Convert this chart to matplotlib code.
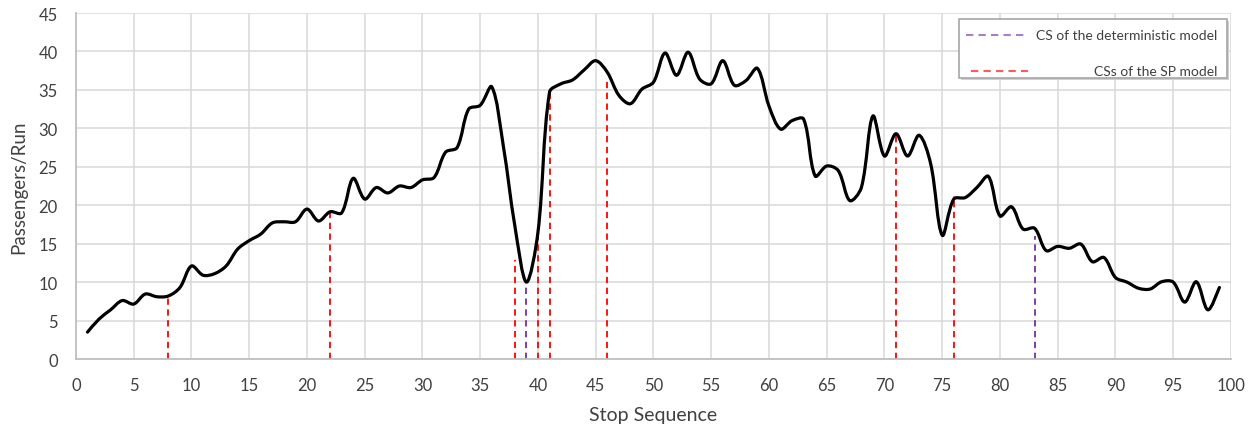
import numpy as np
import matplotlib
matplotlib.use("Agg")
import matplotlib.pyplot as plt
from matplotlib.path import Path
from matplotlib.patches import PathPatch, Rectangle
from matplotlib.lines import Line2D

plt.rcParams['font.family'] = ['Lato', 'DejaVu Sans']

# ---- data ----
stops = list(range(1, 100))
passengers = [
    3.5, 5.2, 6.4, 7.6, 7.15, 8.45, 8.1, 8.2, 9.3, 12.1,
    10.9, 11.1, 12.1, 14.3, 15.4, 16.25, 17.7, 17.85, 17.85, 19.5,
    17.95, 19.15, 19.0, 23.5, 20.8, 22.3, 21.6, 22.5, 22.3, 23.3,
    23.6, 26.9, 27.5, 32.5, 33.0, 35.4, 27.7, 17.3, 10.0, 16.5,
    34.7, 35.8, 36.3, 37.6, 38.8, 37.3, 34.3, 33.2, 35.1, 36.0,
    39.8, 36.9, 39.9, 36.4, 35.8, 38.8, 35.6, 36.2, 37.8, 32.9,
    29.9, 31.0, 31.2, 23.8, 25.1, 24.5, 20.6, 22.3, 31.6, 26.4,
    29.3, 26.4, 29.1, 25.4, 16.1, 20.8, 21.0, 22.3, 23.75, 18.6,
    19.8, 16.9, 17.0, 14.1, 14.65, 14.4, 14.95, 12.65, 13.2, 10.6,
    10.0, 9.2, 9.1, 10.05, 10.0, 7.4, 10.05, 6.4, 9.3,
]
sp_stops = [8, 22, 38, 40, 41, 46, 71, 76]
sp_heights = [8.0, 19.2, 12.9, 16.3, 34.8, 36.6, 29.0, 21.2]
det_stops = [39, 83]
det_heights = [9.8, 16.0]
xticks = list(range(0, 101, 5))
yticks = list(range(0, 46, 5))
legend_labels = ["CS of the deterministic model", "CSs of the SP model"]

RED = "#ff0000"
PURPLE = "#7030a0"
TXT = "#404040"

fig = plt.figure(figsize=(12.58, 4.31), dpi=100)
ax = fig.add_axes([0.0604, 0.1647, 0.9181, 0.8028])
ax.set_xlim(0, 100)
ax.set_ylim(0, 45)
ax.set_xticks(xticks)
ax.set_yticks(yticks)
ax.grid(True, color="#d9d9d9", linewidth=1.1)
ax.set_axisbelow(True)
for s in ["top", "right"]:
    ax.spines[s].set_visible(False)
for s in ["bottom", "left"]:
    ax.spines[s].set_color("#bfbfbf")
    ax.spines[s].set_linewidth(1.3)
ax.tick_params(length=0, labelsize=12, colors=TXT)
ax.tick_params(axis="x", pad=13)
ax.tick_params(axis="y", pad=13)
ax.set_xlabel("Stop Sequence", fontsize=14, color=TXT, labelpad=9)
ax.set_ylabel("Passengers/Run", fontsize=13.5, color=TXT, labelpad=8)

# vertical dashed lines
ax.vlines(sp_stops, 0, sp_heights, colors=RED, linewidth=1.3,
          linestyles=(0, (3.5, 2.5)), zorder=2)
ax.vlines(det_stops, 0, det_heights, colors=PURPLE, linewidth=1.3,
          linestyles=(0, (3.5, 2.5)), zorder=2)

# smoothed curve: Bezier with tangents scaled by neighbouring chord lengths
fig.canvas.draw()
x = np.array(stops, float)
y = np.array(passengers, float)
pts_disp = ax.transData.transform(np.column_stack([x, y]))
n = len(x)
d = np.hypot(np.diff(pts_disp[:, 0]), np.diff(pts_disp[:, 1]))  # chord lengths
P = np.column_stack([x, y])
tang = np.zeros_like(P)
for i in range(n):
    a = P[i - 1] if i > 0 else P[i]
    b = P[i + 1] if i < n - 1 else P[i]
    tang[i] = b - a
verts = [tuple(P[0])]
codes = [Path.MOVETO]
for i in range(n - 1):
    dl = d[i - 1] if i > 0 else d[i]
    dr = d[i + 1] if i + 1 < n - 1 else d[i]
    f1 = d[i] / (dl + d[i]) if i > 0 else 0.5
    f2 = d[i] / (d[i] + dr) if i + 1 < n - 1 else 0.5
    c1 = P[i] + tang[i] * f1 / 3.0
    c2 = P[i + 1] - tang[i + 1] * f2 / 3.0
    verts += [tuple(c1), tuple(c2), tuple(P[i + 1])]
    codes += [Path.CURVE4] * 3
ax.add_patch(PathPatch(Path(verts, codes), facecolor="none", edgecolor="black",
                       linewidth=2.3, capstyle="round", joinstyle="round", zorder=3))

# legend box (manual, in axes fraction)
bx0, by0, bx1, by1 = 0.7645, 0.8115, 0.9965, 0.982
shadow = Rectangle((bx0 + 0.002, by0 - 0.006), bx1 - bx0, by1 - by0,
                   transform=ax.transAxes, facecolor="#d0d0d0", edgecolor="none", zorder=4)
box = Rectangle((bx0, by0), bx1 - bx0, by1 - by0, transform=ax.transAxes,
                facecolor="white", edgecolor="#a6a6a6", linewidth=1.2, zorder=5)
ax.add_patch(shadow)
ax.add_patch(box)
ax.add_line(Line2D([0.771, 0.8205], [0.935, 0.935], transform=ax.transAxes,
                   color="#a77fc8", linewidth=1.5, linestyle=(0, (3.5, 2.5)), zorder=6))
ax.add_line(Line2D([0.7745, 0.824], [0.8315, 0.8315], transform=ax.transAxes,
                   color="#ff5a5a", linewidth=1.5, linestyle=(0, (3.5, 2.5)), zorder=6))
ax.text(0.9885, 0.935, legend_labels[0], transform=ax.transAxes, ha="right",
        va="center", fontsize=10, color=TXT, zorder=6)
ax.text(0.9885, 0.8315, legend_labels[1], transform=ax.transAxes, ha="right",
        va="center", fontsize=10, color=TXT, zorder=6)

fig.savefig("out.png", dpi=100, facecolor="white")
